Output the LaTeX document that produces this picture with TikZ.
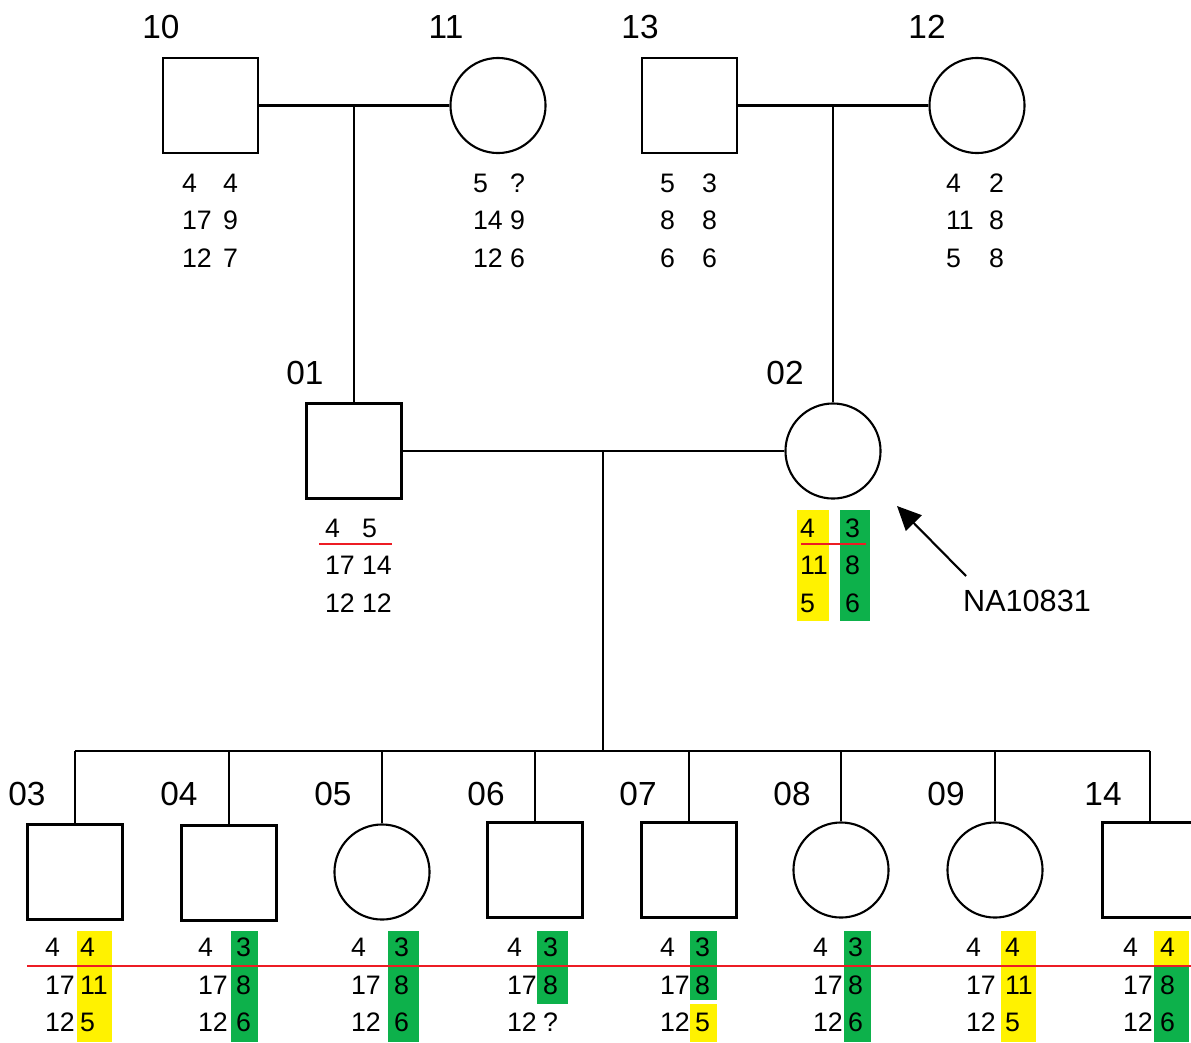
\documentclass[tikz,border=0pt]{standalone}
\usepackage{fontspec}
\setmainfont{Liberation Sans}
\usetikzlibrary{arrows.meta}
\definecolor{hlyellow}{RGB}{255,242,0}
\definecolor{hlgreen}{RGB}{13,177,75}
\definecolor{hlred}{RGB}{237,28,36}
\newcommand{\gtab}[7]{\begin{tabular}[t]{@{}p{#1}@{}l@{}}#2&#3\\#4&#5\\#6&#7\end{tabular}}
\tikzset{
  male/.style={draw, line width=0.6pt, minimum size=0.95cm, inner sep=0},
  female/.style={draw, circle, line width=0.6pt, minimum size=0.95cm, inner sep=0},
  idlabel/.style={inner sep=0, font=\fontsize{9.5}{11}\selectfont},
  geno/.style={anchor=base west, inner sep=0, font=\fontsize{7.6}{10.8}\selectfont},
  cut/.style={hlred, line width=0.75pt},
}
\begin{document}
\begin{tikzpicture}[x=0.01cm, y=-0.01cm, line width=0.6pt]
      \useasboundingbox (0,0) rectangle (1191,1042);
      % grandparents
      \node[male] (i10) at (210.5,105.5) {};
      \node[female] (i11) at (498,105.5) {};
      \node[male] (i13) at (689.5,105.5) {};
      \node[female] (i12) at (977,105.5) {};
      % parents
      \node[male] (i01) at (354,451) {};
      \node[female] (i02) at (833,451) {};
      % children
      \node[male] (i03) at (75,872) {};
      \node[male] (i04) at (229,873) {};
      \node[female] (i05) at (382,872) {};
      \node[male] (i06) at (535,870) {};
      \node[male] (i07) at (689,870) {};
      \node[female] (i08) at (841,870) {};
      \node[female] (i09) at (995,870) {};
      \node[male] (i14) at (1150,870) {};
      \path[idlabel]
        (161,27) node (l10) {10}
        (446,27) node (l11) {11}
        (640,27) node (l13) {13}
        (927,27) node (l12) {12}
        (305,373) node (l01) {01}
        (785,373) node (l02) {02}
        (27,794) node (l03) {03}
        (179,794) node (l04) {04}
        (333,794) node (l05) {05}
        (486,794) node (l06) {06}
        (638,794) node (l07) {07}
        (792,794) node (l08) {08}
        (946,794) node (l09) {09}
        (1103,794) node (l14) {14};
      \coordinate (m1) at (354,105.5);
      \coordinate (m2) at (833,105.5);
      \coordinate (m3) at (603,451);
      \coordinate (sib) at (603,751);
      \coordinate (d03) at (75,751);
      \coordinate (d04) at (229,751);
      \coordinate (d05) at (382,751);
      \coordinate (d06) at (535,751);
      \coordinate (d07) at (689,751);
      \coordinate (d08) at (841,751);
      \coordinate (d09) at (995,751);
      \coordinate (d14) at (1150,751);
      \begin{scope}[-]
        \draw (i10) to (i11);
        \draw (i13) to (i12);
        \draw (m1) to (i01);
        \draw (m2) to (i02);
        \draw (i01) to (i02);
        \draw (m3) to (sib);
        \draw (d03) to (d14);
        \draw (d03) to (i03);
        \draw (d04) to (i04);
        \draw (d05) to (i05);
        \draw (d06) to (i06);
        \draw (d07) to (i07);
        \draw (d08) to (i08);
        \draw (d09) to (i09);
        \draw (d14) to (i14);
      \end{scope}
      % shared haplotypes
      \fill[hlyellow] (797,510) rectangle (829,621);
      \fill[hlgreen] (840,510) rectangle (870,621);
      \fill[hlyellow] (77,931) rectangle (112,1042);
      \fill[hlgreen] (231,931) rectangle (258,1042);
      \fill[hlgreen] (388,931) rectangle (419,1042);
      \fill[hlgreen] (537,931) rectangle (568,1004);
      \fill[hlgreen] (690,931) rectangle (717,1000);
      \fill[hlyellow] (690,1004) rectangle (717,1042);
      \fill[hlgreen] (844,931) rectangle (871,1042);
      \fill[hlyellow] (1001,931) rectangle (1036,1042);
      \fill[hlyellow] (1154,931) rectangle (1189,965);
      \fill[hlgreen] (1154,965) rectangle (1189,1042);
      \draw[cut] (319,544) -- (392,544);
      \draw[cut] (801,544) -- (866,544);
      \draw[cut] (27,966) -- (1191,966);
      % genotypes
      \node[geno] (g10) at (181,192) {\gtab{0.41cm}{4}{4}{17}{9}{12}{7}};
      \node[geno] (g11) at (472,192) {\gtab{0.37cm}{5}{?}{14}{9}{12}{6}};
      \node[geno] (g13) at (659,192) {\gtab{0.42cm}{5}{3}{8}{8}{6}{6}};
      \node[geno] (g12) at (945,192) {\gtab{0.43cm}{4}{2}{11}{8}{5}{8}};
      \node[geno] (g01) at (324,537) {\gtab{0.37cm}{4}{5}{17}{14}{12}{12}};
      \node[geno] (g02) at (799,537) {\gtab{0.45cm}{4}{3}{11}{8}{5}{6}};
      \node[geno] (g03) at (44,956) {\gtab{0.35cm}{4}{4}{17}{11}{12}{5}};
      \node[geno] (g04) at (197,956) {\gtab{0.38cm}{4}{3}{17}{8}{12}{6}};
      \node[geno] (g05) at (350,956) {\gtab{0.43cm}{4}{3}{17}{8}{12}{6}};
      \node[geno] (g06) at (506,956) {\gtab{0.36cm}{4}{3}{17}{8}{12}{?}};
      \node[geno] (g07) at (659,956) {\gtab{0.35cm}{4}{3}{17}{8}{12}{5}};
      \node[geno] (g08) at (812,956) {\gtab{0.35cm}{4}{3}{17}{8}{12}{6}};
      \node[geno] (g09) at (965,956) {\gtab{0.39cm}{4}{4}{17}{11}{12}{5}};
      \node[geno] (g14) at (1122,956) {\gtab{0.37cm}{4}{4}{17}{8}{12}{6}};
      % proband
      \node[inner sep=0, font=\fontsize{8.7}{10}\selectfont] (na) at (1027,601) {NA10831};
      \coordinate (tail) at (966,576);
      \coordinate (tip) at (897,506);
      \draw[-{Triangle[length=0.24cm,width=0.22cm]}] (tail) -- (tip);
    \end{tikzpicture}
\end{document}
